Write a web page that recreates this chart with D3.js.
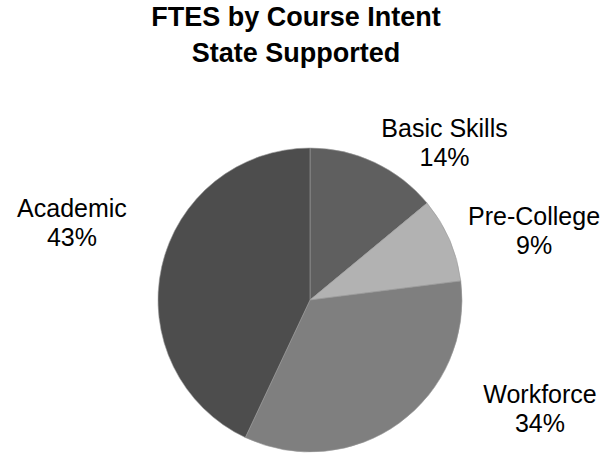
<!DOCTYPE html>
<html>
<head>
<meta charset="utf-8">
<script src="https://cdn.jsdelivr.net/npm/d3@7"></script>
<style>
  body { margin: 0; background: #fff; }
  svg { display: block; }
</style>
</head>
<body>
<div id="chart"></div>
<script>
// data
const categories = ["Basic Skills", "Pre-College", "Workforce", "Academic"];
const shares = [14, 9, 34, 43];
const titleLines = ["FTES by Course Intent", "State Supported"];

const colors = d3.scaleOrdinal()
  .domain(categories)
  .range(["#5f5f5f", "#b2b2b2", "#7f7f7f", "#4d4d4d"]);

// where each label's first baseline sits relative to the pie centre, in multiples of radius
const labelSpots = {
  "Basic Skills": [0.885, -1.072],
  "Pre-College": [1.474, -0.493],
  "Workforce": [1.513, 0.678],
  "Academic": [-1.566, -0.546]
};

const width = 613, height = 454;
const cx = 310, cy = 300, radius = 152;

const svg = d3.select("#chart")
  .append("svg")
  .attr("width", width)
  .attr("height", height);

svg.append("g")
  .selectAll("text")
  .data(titleLines)
  .join("text")
  .attr("x", 296)
  .attr("y", (d, i) => 26 + i * 36)
  .attr("text-anchor", "middle")
  .style("font-family", "'Liberation Sans', Arial, sans-serif")
  .style("font-weight", "bold")
  .style("font-size", "27px")
  .text(d => d);

const data = categories.map((c, i) => ({ category: c, value: shares[i] }));

const pie = d3.pie()
  .sort(null)
  .value(d => d.value);

const arc = d3.arc()
  .innerRadius(0)
  .outerRadius(radius);

const g = svg.append("g")
  .attr("transform", `translate(${cx},${cy})`);

g.selectAll("path")
  .data(pie(data))
  .join("path")
  .attr("d", arc)
  .attr("fill", d => colors(d.data.category))
  .attr("stroke", "#9a9a9a")
  .attr("stroke-width", 0.6);

const labels = g.selectAll("text.lbl")
  .data(pie(data))
  .join("text")
  .attr("class", "lbl")
  .attr("text-anchor", "middle")
  .style("font-family", "'Liberation Sans', Arial, sans-serif")
  .style("font-size", "25px")
  .attr("fill", "#000")
  .attr("transform", d => {
    const s = labelSpots[d.data.category];
    return `translate(${s[0] * radius},${s[1] * radius})`;
  });

labels.append("tspan")
  .attr("x", 0)
  .attr("y", 0)
  .text(d => d.data.category);

labels.append("tspan")
  .attr("x", 0)
  .attr("y", 29)
  .text(d => d.data.value + "%");
</script>
</body>
</html>
